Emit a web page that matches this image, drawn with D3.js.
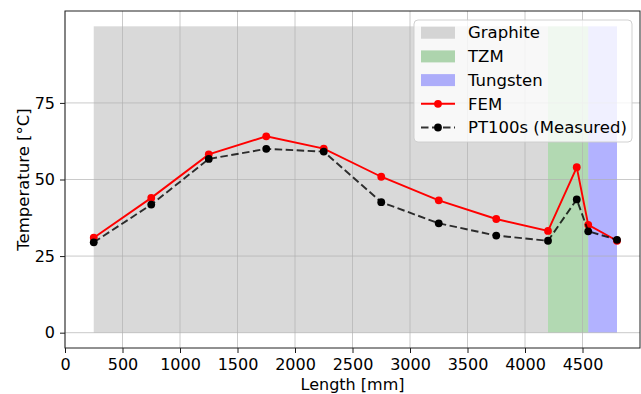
<!DOCTYPE html>
<html>
<head>
<meta charset="utf-8">
<script src="https://cdn.jsdelivr.net/npm/d3@7"></script>
<style>
  html, body { margin: 0; padding: 0; background: #fff; }
  svg { display: block; font-family: "DejaVu Sans", sans-serif; }
</style>
</head>
<body>
<svg id="chart" width="641" height="394"></svg>
<script>
// Sensor positions along the assembly [mm]
const positions = [250, 750, 1250, 1750, 2250, 2750, 3250, 3750, 4200, 4450, 4550, 4800];
// Simulated temperatures [°C]
const femValues = [31.0, 44.0, 58.2, 64.1, 60.1, 50.9, 43.2, 37.1, 33.2, 54.0, 35.2, 30.0];
// PT100 readings [°C]
const measuredValues = [29.5, 41.8, 56.7, 60.0, 59.1, 42.6, 35.7, 31.7, 30.0, 43.5, 33.1, 30.3];

// Material zones along the length
const materials = ["Graphite", "TZM", "Tungsten"];
const zoneStart = [250, 4200, 4550];
const zoneEnd = [4200, 4550, 4800];
const zoneTop = 100;

const xTicks = [0, 500, 1000, 1500, 2000, 2500, 3000, 3500, 4000, 4500];
const yTicks = [0, 25, 50, 75];

const zoneColors = ["rgba(128,128,128,0.3)", "rgba(0,128,0,0.3)", "rgba(0,0,255,0.3)"];
const FS = 16;       // axis text
const FS_LEG = 16.5; // legend text

const svg = d3.select("#chart");
const margin = { left: 65, right: 1, top: 11, bottom: 46 };
const W = 641, H = 394;

const x = d3.scaleLinear().domain([0, 5000]).range([margin.left, W - margin.right]);
const y = d3.scaleLinear().domain([-5, 105]).range([H - margin.bottom, margin.top]);

// material zones
svg.append("g").selectAll("rect")
  .data(materials)
  .join("rect")
  .attr("x", (d, i) => x(zoneStart[i]))
  .attr("width", (d, i) => x(zoneEnd[i]) - x(zoneStart[i]))
  .attr("y", y(zoneTop))
  .attr("height", y(0) - y(zoneTop))
  .attr("fill", (d, i) => zoneColors[i]);

// grid
const grid = svg.append("g").attr("stroke", "#b0b0b0").attr("stroke-opacity", 0.75).attr("stroke-width", 0.9);
grid.selectAll("line.v").data(xTicks).join("line").attr("class", "v")
  .attr("x1", d => x(d)).attr("x2", d => x(d))
  .attr("y1", y(105)).attr("y2", y(-5));
grid.selectAll("line.h").data(yTicks).join("line").attr("class", "h")
  .attr("y1", d => y(d)).attr("y2", d => y(d))
  .attr("x1", x(0)).attr("x2", x(5000));

// series
const line = d3.line().x(d => x(d[0])).y(d => y(d[1]));
const fem = positions.map((p, i) => [p, femValues[i]]);
const meas = positions.map((p, i) => [p, measuredValues[i]]);

svg.append("path").datum(fem).attr("d", line)
  .attr("fill", "none").attr("stroke", "#ff0000").attr("stroke-width", 1.9);
svg.append("g").selectAll("circle").data(fem).join("circle")
  .attr("cx", d => x(d[0])).attr("cy", d => y(d[1])).attr("r", 3.9).attr("fill", "#ff0000");

svg.append("path").datum(meas).attr("d", line)
  .attr("fill", "none").attr("stroke", "#000").attr("stroke-opacity", 0.8)
  .attr("stroke-width", 1.9).attr("stroke-dasharray", "7.5,3.5");
svg.append("g").selectAll("circle").data(meas).join("circle")
  .attr("cx", d => x(d[0])).attr("cy", d => y(d[1])).attr("r", 3.9).attr("fill", "#000");

// axes
const xAxis = svg.append("g").attr("transform", `translate(0,${H - margin.bottom})`)
  .call(d3.axisBottom(x).tickValues(xTicks).tickSize(5).tickPadding(6).tickFormat(d3.format("d")));
const yAxis = svg.append("g").attr("transform", `translate(${margin.left},0)`)
  .call(d3.axisLeft(y).tickValues(yTicks).tickSize(5).tickPadding(5));
[xAxis, yAxis].forEach(a => {
  a.select(".domain").remove();
  a.selectAll("text").attr("font-size", FS).attr("fill", "#000").attr("font-family", "DejaVu Sans");
  a.selectAll("line").attr("stroke", "#000").attr("stroke-width", 0.9);
});

// frame
svg.append("rect")
  .attr("x", x(0)).attr("y", y(105))
  .attr("width", x(5000) - x(0)).attr("height", y(-5) - y(105))
  .attr("fill", "none").attr("stroke", "#222").attr("stroke-width", 1);

// axis titles
svg.append("text").attr("x", (x(0) + x(5000)) / 2).attr("y", 390)
  .attr("text-anchor", "middle").attr("font-size", FS).text("Length [mm]");
svg.append("text")
  .attr("transform", `translate(29,${(y(105) + y(-5)) / 2}) rotate(-90)`)
  .attr("text-anchor", "middle").attr("font-size", FS_LEG).text("Temperature [°C]");

// legend
const lg = svg.append("g").attr("transform", "translate(414,20)");
lg.append("rect").attr("width", 218).attr("height", 122).attr("rx", 4)
  .attr("fill", "rgba(255,255,255,0.8)").attr("stroke", "#cccccc").attr("stroke-width", 0.9);
const rowY = i => 12.7 + i * 23.7;
materials.forEach((m, i) => {
  lg.append("rect").attr("x", 7).attr("y", rowY(i) - 6).attr("width", 34).attr("height", 12)
    .attr("fill", zoneColors[i]);
  lg.append("text").attr("x", 54).attr("y", rowY(i)).attr("dy", "0.35em")
    .attr("font-size", FS_LEG).text(m);
});
const femRow = rowY(3), measRow = rowY(4);
lg.append("line").attr("x1", 7).attr("x2", 41).attr("y1", femRow).attr("y2", femRow)
  .attr("stroke", "#ff0000").attr("stroke-width", 1.9);
lg.append("circle").attr("cx", 24).attr("cy", femRow).attr("r", 3.9).attr("fill", "#ff0000");
lg.append("text").attr("x", 54).attr("y", femRow).attr("dy", "0.35em").attr("font-size", FS_LEG).text("FEM");
lg.append("line").attr("x1", 7).attr("x2", 41).attr("y1", measRow).attr("y2", measRow)
  .attr("stroke", "#000").attr("stroke-opacity", 0.8).attr("stroke-width", 1.9).attr("stroke-dasharray", "7.5,3.5");
lg.append("circle").attr("cx", 24).attr("cy", measRow).attr("r", 3.9).attr("fill", "#000");
lg.append("text").attr("x", 54).attr("y", measRow).attr("dy", "0.35em").attr("font-size", FS_LEG).text("PT100s (Measured)");
</script>
</body>
</html>
